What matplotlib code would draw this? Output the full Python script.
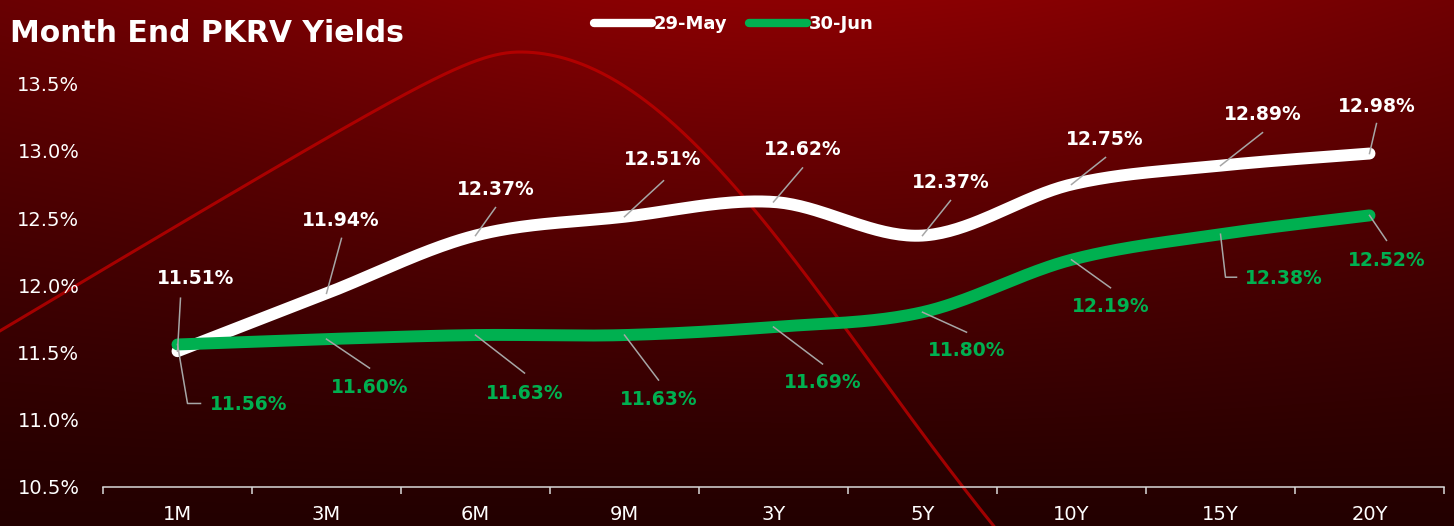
import numpy as np
import matplotlib
matplotlib.use("Agg")
import matplotlib.pyplot as plt
from matplotlib.lines import Line2D
from matplotlib.transforms import IdentityTransform

plt.rcParams['font.family'] = ['DejaVu Sans']

# data
tenors = ['1M', '3M', '6M', '9M', '3Y', '5Y', '10Y', '15Y', '20Y']
may_yields = [11.51, 11.94, 12.37, 12.51, 12.62, 12.37, 12.75, 12.89, 12.98]
jun_yields = [11.56, 11.60, 11.63, 11.63, 11.69, 11.80, 12.19, 12.38, 12.52]
y_ticks = [10.5, 11.0, 11.5, 12.0, 12.5, 13.0, 13.5]

# label placement (pixels from the point, y down): text, then leader path
may_text = [(18, -73), (14, -73), (20, -46), (38, -57), (29, -52),
            (28, -53), (33, -45), (42, -51), (7, -47)]
may_lead = [[(3, -53)], [(15, -55)], [(20, -28)], [(39, -36)], [(29, -34)],
            [(28, -35)], [(34, -27)], [(42, -33)], [(7, -30)]]
jun_text = [(71, 60), (43, 48), (49, 58), (34, 64), (49, 56),
            (44, 38), (39, 47), (63, 44), (17, 45)]
jun_lead = [[(10, 59), (23, 59)], [(43, 29)], [(49, 38)], [(34, 45)], [(49, 37)],
            [(44, 20)], [(39, 28)], [(5, 43), (16, 43)], [(17, 25)]]

WHITE = '#ffffff'
GREEN = '#00b050'
LEADER = '#a6a6a6'
W, H = 1454, 526


def smooth(xp, yp, n=40):
    P = np.column_stack([xp, yp]).astype(float)
    P = np.vstack([P[0], P, P[-1]])
    out = []
    t = np.linspace(0, 1, n)[:, None]
    for k in range(1, len(P) - 2):
        p0, p1, p2, p3 = P[k - 1], P[k], P[k + 1], P[k + 2]
        c1 = p1 + (p2 - p0) / 6
        c2 = p2 - (p3 - p1) / 6
        seg = (1 - t)**3 * p1 + 3 * (1 - t)**2 * t * c1 + 3 * (1 - t) * t**2 * c2 + t**3 * p2
        out.append(seg if k == 1 else seg[1:])
    out = np.vstack(out)
    return out[:, 0], out[:, 1]


fig = plt.figure(figsize=(W / 100, H / 100), dpi=100)

# background gradient + decorative curve
bg = fig.add_axes([0, 0, 1, 1], zorder=-10)
xx, yy = np.meshgrid(np.arange(W), np.arange(H))
glow = (1 - yy / H) ** 1.2 * (0.55 + 0.45 * np.exp(-((xx - 800) / 700.0) ** 2))
red = (35 + 105 * glow) / 255.0
img = np.dstack([red, red * 0.0, red * 0.02])
bg.imshow(img, extent=(0, W, H, 0), aspect='auto')
cx = np.linspace(0, W, 800)
d = cx - 520
cy = np.where(d < 0, 52 + 0.6 * (np.sqrt(d**2 + 58.5**2) - 58.5),
              52 + 800 * (1 - np.exp(-(d / 500.0) ** 2)))
bg.plot(cx, cy, color='#c00000', lw=2.2, alpha=0.8)
bg.set_xlim(0, W)
bg.set_ylim(H, 0)
bg.axis('off')

ax = fig.add_axes([103 / W, 39 / H, 1341 / W, 437 / H])
ax.patch.set_alpha(0)
x = np.arange(len(tenors))

sx, sy = smooth(x, may_yields)
ax.plot(sx, sy, color=WHITE, lw=8.6, solid_capstyle='round', zorder=3)
sx, sy = smooth(x, jun_yields)
ax.plot(sx, sy, color=GREEN, lw=8.6, solid_capstyle='round', zorder=4)

ax.set_xlim(-0.5, len(tenors) - 0.5)
ax.set_ylim(10.5, 13.75)
ax.set_xticks(x)
ax.set_xticklabels(tenors)
ax.set_xticks(np.arange(-0.5, len(tenors)), minor=True)
ax.set_yticks(y_ticks)
ax.set_yticklabels(['{:.1f}%'.format(v) for v in y_ticks])
ax.tick_params(axis='x', which='major', length=0, pad=13, labelsize=14, labelcolor='white')
ax.tick_params(axis='x', which='minor', length=5, width=1.1, color='#d9d9d9', direction='out')
ax.tick_params(axis='y', length=0, pad=17, labelsize=14, labelcolor='white')
for s in ['top', 'right', 'left']:
    ax.spines[s].set_visible(False)
ax.spines['bottom'].set_color('#d9d9d9')
ax.spines['bottom'].set_linewidth(1.1)


def put_labels(values, texts, leads, color):
    for i, v in enumerate(values):
        px, py = ax.transData.transform((i, v))
        xs = [px] + [px + dx for dx, dy in leads[i]]
        ys = [py] + [py - dy for dx, dy in leads[i]]
        ax.add_line(Line2D(xs, ys, color=LEADER, lw=1.1, transform=IdentityTransform(),
                           zorder=5))
        ax.annotate('{:.2f}%'.format(v), xy=(i, v), xytext=(texts[i][0], -texts[i][1]),
                    textcoords='offset pixels', ha='center', va='center',
                    color=color, fontsize=13.5, fontweight='bold', zorder=6,
                    annotation_clip=False)


put_labels(may_yields, may_text, may_lead, WHITE)
put_labels(jun_yields, jun_text, jun_lead, GREEN)

fig.text(10 / W, 1 - 33 / H, 'Month End PKRV Yields', color='white', fontsize=21.5,
         fontweight='bold', ha='left', va='center')

handles = [Line2D([], [], color=WHITE, lw=6, solid_capstyle='round'),
           Line2D([], [], color=GREEN, lw=6, solid_capstyle='round')]
leg = fig.legend(handles, ['29-May', '30-Jun'], loc='center', bbox_to_anchor=(734 / W, 1 - 24 / H),
                 ncol=2, frameon=False, handlelength=3.2, handletextpad=0.1,
                 columnspacing=1.2, prop={'weight': 'bold', 'size': 13})
for t in leg.get_texts():
    t.set_color('white')

fig.savefig('out.png', dpi=100)
